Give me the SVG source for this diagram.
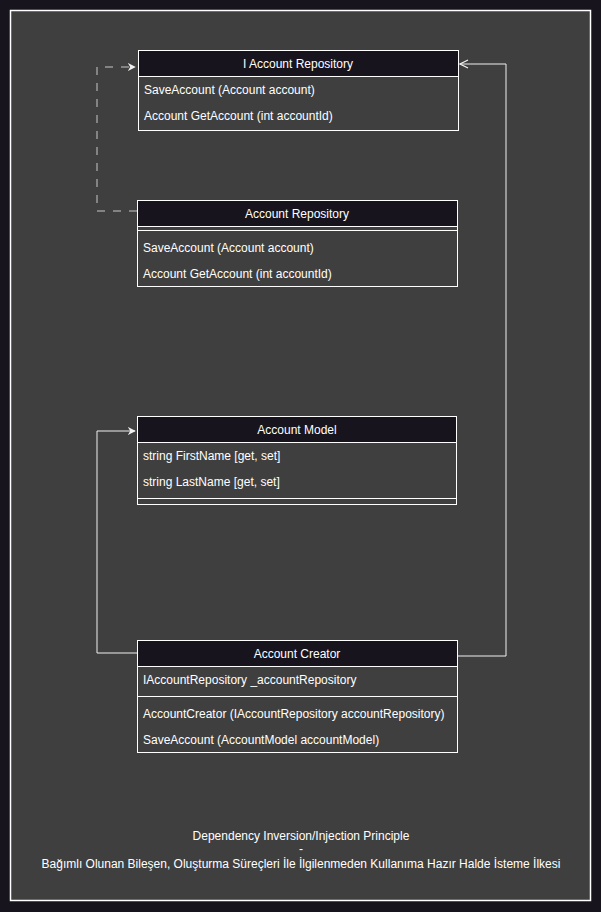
<svg xmlns="http://www.w3.org/2000/svg" width="601" height="912" viewBox="0 0 601 912">
<defs>
<style>
.box{fill:#3f3f3f;stroke:#ffffff;stroke-width:1}
.hdr{fill:#18141d;stroke:#ffffff;stroke-width:1}
.ln{stroke:#ffffff;stroke-width:1;fill:none}
.t{font-family:"Liberation Sans",Arial,sans-serif;font-size:12px;fill:#ffffff}
.c{text-anchor:middle}
.conn{fill:none;stroke:#f0f0f0;stroke-width:1}
.dash{stroke:#c8c8c8;stroke-dasharray:8 8}
</style>
<marker id="arrF" viewBox="0 0 10 10" refX="9" refY="5" markerWidth="8" markerHeight="8" markerUnits="userSpaceOnUse" orient="auto">
<path d="M0,0 L10,5 L0,10 L3,5 Z" fill="#f0f0f0"/>
</marker>
<marker id="arrO" viewBox="0 0 10 10" refX="9" refY="5" markerWidth="10" markerHeight="10" markerUnits="userSpaceOnUse" orient="auto">
<path d="M1,1 L9,5 L1,9" fill="none" stroke="#f0f0f0" stroke-width="1.2"/>
</marker>
</defs>
<rect x="0" y="0" width="601" height="912" fill="#18141d"/>
<rect x="10.5" y="10.5" width="580" height="890" fill="#3f3f3f" stroke="#ffffff" stroke-width="1.5"/>

<g id="connectors">
<path class="conn dash" d="M137,211 H97 V67 H135" marker-end="url(#arrF)"/>
<path class="conn" d="M458,656 H506 V64 H460" marker-end="url(#arrO)"/>
<path class="conn" d="M137,653 H97 V431 H135" marker-end="url(#arrF)"/>
</g>

<g id="iaccountrepository">
<rect class="box" x="138.5" y="50.5" width="320" height="80"/>
<rect class="hdr" x="138.5" y="50.5" width="320" height="26"/>
<text class="t c" x="298" y="68">I Account Repository</text>
<text class="t" x="144" y="94">SaveAccount (Account account)</text>
<text class="t" x="144" y="120">Account GetAccount (int accountId)</text>
</g>

<g id="accountrepository">
<rect class="box" x="137.5" y="200.5" width="320" height="86"/>
<rect class="hdr" x="137.5" y="200.5" width="320" height="26"/>
<line class="ln" x1="137.5" y1="230.5" x2="457.5" y2="230.5"/>
<text class="t c" x="297" y="218">Account Repository</text>
<text class="t" x="143" y="252">SaveAccount (Account account)</text>
<text class="t" x="143" y="278">Account GetAccount (int accountId)</text>
</g>

<g id="accountmodel">
<rect class="box" x="137.5" y="416.5" width="319" height="88"/>
<rect class="hdr" x="137.5" y="416.5" width="319" height="26"/>
<line class="ln" x1="137.5" y1="498.5" x2="456.5" y2="498.5"/>
<text class="t c" x="297" y="434">Account Model</text>
<text class="t" x="143" y="460">string FirstName [get, set]</text>
<text class="t" x="143" y="486">string LastName [get, set]</text>
</g>

<g id="accountcreator">
<rect class="box" x="137.5" y="640.5" width="320" height="112"/>
<rect class="hdr" x="137.5" y="640.5" width="320" height="26"/>
<line class="ln" x1="137.5" y1="696.5" x2="457.5" y2="696.5"/>
<text class="t c" x="297" y="658">Account Creator</text>
<text class="t" x="143" y="684">IAccountRepository _accountRepository</text>
<text class="t" x="143" y="718">AccountCreator (IAccountRepository accountRepository)</text>
<text class="t" x="143" y="744">SaveAccount (AccountModel accountModel)</text>
</g>

<g id="caption">
<text class="t c" x="301" y="840">Dependency Inversion/Injection Principle</text>
<text class="t c" x="301" y="853">-</text>
<text class="t c" x="301" y="868">Bağımlı Olunan Bileşen, Oluşturma Süreçleri İle İlgilenmeden Kullanıma Hazır Halde İsteme İlkesi</text>
</g>
</svg>
